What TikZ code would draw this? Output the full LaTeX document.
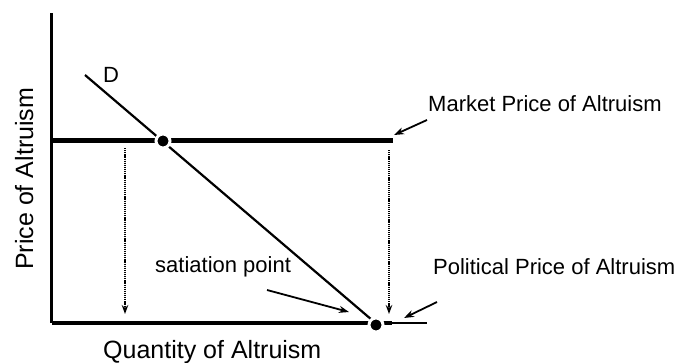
\documentclass[tikz,border=0pt]{standalone}
\usepackage{fontspec}
\setmainfont{Liberation Sans}
\usetikzlibrary{arrows.meta}

\begin{document}
\begin{tikzpicture}[
    x=1pt, y=-1pt,
    every node/.style = {inner sep=0pt, font=\fontsize{22}{26}\selectfont},
    axislbl/.style    = {font=\fontsize{25}{30}\selectfont},
    dotv/.style       = {circle, fill=black, draw=white, line width=3pt, minimum size=14pt},
    pointer/.style    = {line width=1.8pt, -{Stealth[length=10pt,width=7pt]}},
    dropline/.style   = {line width=1.6pt, dash pattern=on 1.2pt off 0.9pt, -{Stealth[length=9pt,width=6.5pt]}}
    ]
      \useasboundingbox (0,0) rectangle (682,362);

      % points ---------------------------------------------------
      \coordinate (o)     at (51.5,323);
      \coordinate (ytop)  at (51.5,13);
      \coordinate (xend)  at (392,323);
      \coordinate (xthin) at (427,323);
      \coordinate (m0)    at (51.5,140.5);
      \coordinate (m1)    at (393,140.5);
      \coordinate (d0)    at (85,75);
      \coordinate (d1)    at (372,320);
      \coordinate (l0)    at (125,148);
      \coordinate (l1)    at (125,314);
      \coordinate (r0)    at (389,150);
      \coordinate (r1)    at (389,314);
      \coordinate (pm0)   at (427,120);
      \coordinate (pm1)   at (394,135);
      \coordinate (pp0)   at (437,302);
      \coordinate (pp1)   at (404,318);
      \coordinate (ps0)   at (267,290);
      \coordinate (ps1)   at (349,312);

      % labels ---------------------------------------------------
      \node[anchor=center]                    (dlbl)  at (111,74.5)  {D};
      \node[anchor=west]                      (mkt)   at (428,103.5) {Market Price of Altruism};
      \node[anchor=west]                      (pol)   at (433,266.5) {Political Price of Altruism};
      \node[anchor=base west]                 (sat)   at (155,272)   {satiation point};
      \node[axislbl, anchor=base west]        (qty)   at (103,358)   {Quantity of Altruism};
      \node[axislbl, anchor=base west, rotate=90] (prc) at (33,270)  {Price of Altruism};

      % lines ----------------------------------------------------
      \draw[line width=3pt] (ytop) -- (o);
      \draw[line width=4pt] (o) -- (xend);
      \draw[line width=1.5pt] (xend) -- (xthin);
      \draw[line width=4.5pt] (m0) -- (m1);
      \draw[line width=2.2pt] (d0) -- (d1);
      \draw[dropline] (l0) -- (l1);
      \draw[dropline] (r0) -- (r1);

      % points on the lines --------------------------------------
      \node[dotv] (eq)  at (163,141) {};
      \node[dotv] (sp)  at (376,325) {};

      % pointers -------------------------------------------------
      \draw[pointer] (pm0) -- (pm1);
      \draw[pointer] (pp0) -- (pp1);
      \draw[pointer] (ps0) -- (ps1);
\end{tikzpicture}
\end{document}
